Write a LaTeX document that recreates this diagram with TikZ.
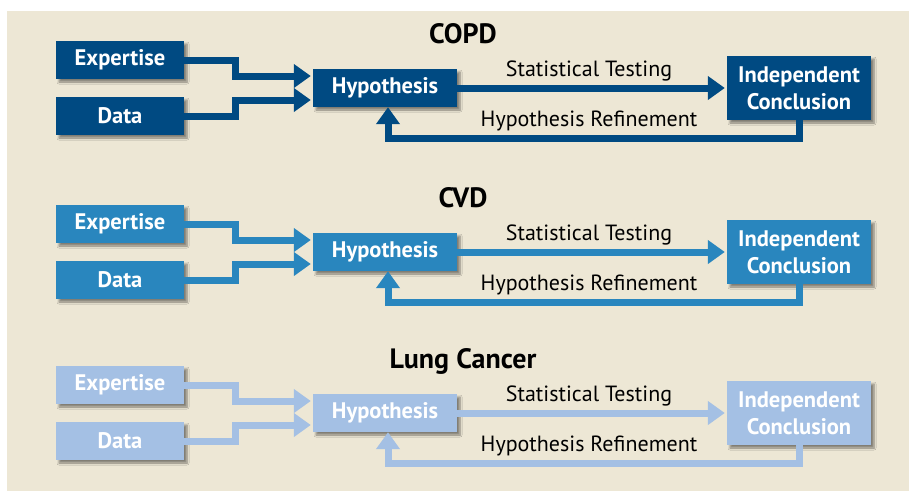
\documentclass[tikz,border=0pt]{standalone}
\usepackage{fontspec}
\setmainfont{PT Sans}
\usetikzlibrary{arrows.meta,shadows.blur}
\definecolor{copdblue}{RGB}{0,74,130}
\definecolor{cvdblue}{RGB}{41,134,190}
\definecolor{lungblue}{RGB}{164,192,228}
\definecolor{paper}{RGB}{237,231,213}

\begin{document}
\begin{tikzpicture}[x=1pt,y=-1pt]
  \tikzstyle{box} = [rectangle, text=white, font=\fontsize{22.5}{27}\selectfont\bfseries, inner sep=0pt, align=center,
                     blur shadow={shadow xshift=3pt, shadow yshift=-3pt, shadow blur steps=6, shadow opacity=45}]
  \tikzstyle{flow} = [line width=7pt, -{Triangle[width=23pt,length=17pt]}, shorten >=2pt]
  \tikzstyle{lbl} = [font=\fontsize{22}{24}\selectfont, inner sep=0pt, anchor=base]
  \tikzstyle{ttl} = [font=\fontsize{28}{30}\selectfont\bfseries, inner sep=0pt, anchor=base]
  \useasboundingbox (0,0) rectangle (909,491);
  \fill[paper] (7,11) rectangle (909,491);
  \foreach \dy/\name/\col/\r in {0/COPD/copdblue/a, 164/CVD/cvdblue/b, 325/Lung Cancer/lungblue/c} {
    \node[ttl] (t\r) at (463,{43+\dy}) {\name};
    \node[box, fill=\col, minimum width=128pt, minimum height=38pt] (e\r) at (120,{60+\dy}) {Expertise};
    \node[box, fill=\col, minimum width=128pt, minimum height=38pt] (d\r) at (120,{116+\dy}) {Data};
    \node[box, fill=\col, minimum width=144pt, minimum height=38pt] (h\r) at (385,{88+\dy}) {Hypothesis};
    \node[box, fill=\col, minimum width=144pt, minimum height=64pt] (c\r) at (799,{88+\dy}) {Independent\\Conclusion};
    \node[lbl] (s\r) at (589,{76+\dy}) {Statistical Testing};
    \node[lbl] (f\r) at (589,{126+\dy}) {Hypothesis Refinement};
    \draw[flow, \col] (e\r.east) -| (235,{76+\dy}) -- ([yshift=12pt]h\r.west);
    \draw[flow, \col] (d\r.east) -| (235,{100+\dy}) -- ([yshift=-12pt]h\r.west);
    \draw[flow, \col] (h\r.east) -- (c\r.west);
    \draw[flow, \col, shorten >=0pt] (c\r.south) -- ++(0,18) -| ([xshift=3pt]h\r.south); % back to hypothesis
  }
\end{tikzpicture}
\end{document}
